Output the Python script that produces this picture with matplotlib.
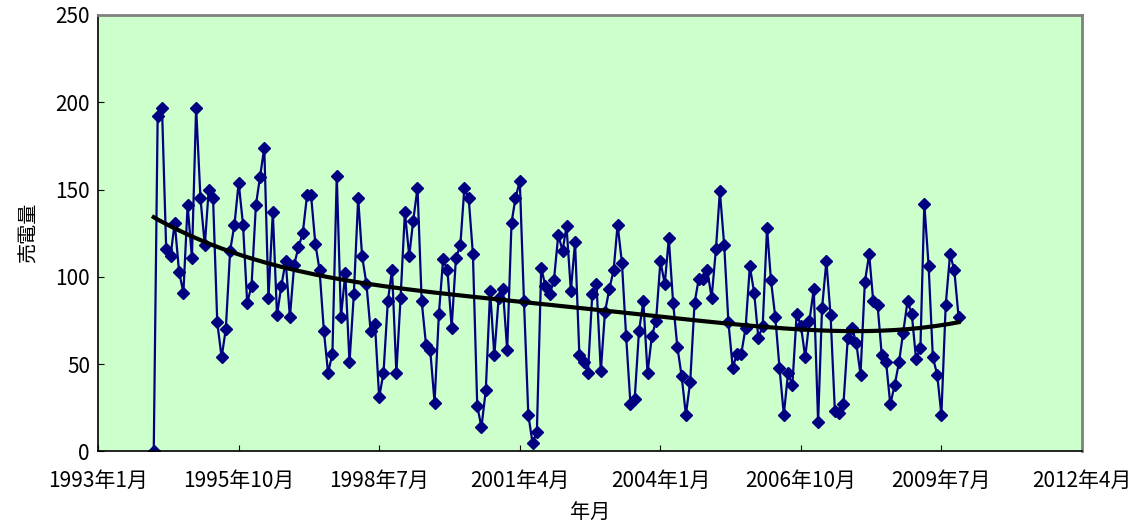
import numpy as np
import pandas as pd
import matplotlib
matplotlib.use("Agg")
import matplotlib.pyplot as plt

plt.rcParams['font.family'] = ['Noto Sans CJK JP', 'DejaVu Sans']

# monthly sales of electricity, first month 1994-02
start_month = '1994-02-01'
sales = [0, 192, 197, 116, 112, 131, 103, 91, 141, 111,
         197, 145, 118, 150, 145, 74, 54, 70, 115, 130,
         154, 130, 85, 95, 141, 157, 174, 88, 137, 78,
         95, 109, 77, 107, 117, 125, 147, 147, 119, 104,
         69, 45, 56, 158, 77, 102, 51, 90, 145, 112,
         96, 69, 73, 31, 45, 86, 104, 45, 88, 137,
         112, 132, 151, 86, 61, 58, 28, 79, 110, 104,
         71, 111, 118, 151, 145, 113, 26, 14, 35, 92,
         55, 88, 93, 58, 131, 145, 155, 86, 21, 5,
         11, 105, 95, 90, 98, 124, 115, 129, 92, 120,
         55, 51, 45, 90, 96, 46, 80, 93, 104, 130,
         108, 66, 27, 30, 69, 86, 45, 66, 75, 109,
         96, 122, 85, 60, 43, 21, 40, 85, 99, 99,
         104, 88, 116, 149, 118, 74, 48, 56, 56, 71,
         106, 91, 65, 72, 128, 98, 77, 48, 21, 45,
         38, 79, 72, 54, 75, 93, 17, 82, 109, 78,
         23, 22, 27, 65, 71, 62, 44, 97, 113, 86,
         84, 55, 51, 27, 38, 51, 68, 86, 79, 53,
         59, 142, 106, 54, 44, 21, 84, 113, 104, 77]

tick_dates = ['1993-01-01', '1995-10-01', '1998-07-01', '2001-04-01',
              '2004-01-01', '2006-10-01', '2009-07-01', '2012-04-01']
tick_labels = ['1993年1月', '1995年10月', '1998年7月', '2001年4月',
               '2004年1月', '2006年10月', '2009年7月', '2012年4月']

dates = pd.date_range(start_month, periods=len(sales), freq='MS')
idx = np.arange(len(sales))
# polynomial trend line
coef = np.polyfit(idx, sales, 4)
trend = np.polyval(coef, idx)

fig = plt.figure(figsize=(11.38, 5.28), dpi=100)
ax = fig.add_axes([0.0864, 0.1449, 0.8644, 0.8267])
ax.set_facecolor('#CCFFCC')

ax.plot(dates, sales, color='#000080', lw=1.6, marker='D', ms=6,
        markerfacecolor='#000080', markeredgecolor='#000080')
ax.plot(dates, trend, color='black', lw=3)

ax.set_xlim(pd.Timestamp(tick_dates[0]), pd.Timestamp(tick_dates[-1]))
ax.set_ylim(0, 250)
ax.set_yticks(range(0, 251, 50))
ax.set_xticks(pd.to_datetime(tick_dates))
ax.set_xticklabels(tick_labels)
ax.tick_params(direction='in', length=4, labelsize=15, colors='black')
ax.tick_params(axis='x', pad=13)
ax.tick_params(axis='y', pad=6)

for s in ['left', 'bottom']:
    ax.spines[s].set_color('black')
    ax.spines[s].set_linewidth(1.2)
for s in ['top', 'right']:
    ax.spines[s].set_color('#808080')
    ax.spines[s].set_linewidth(2)

ax.set_xlabel('年月', fontsize=14.5, labelpad=8)
ax.set_ylabel('売電量', fontsize=14.5, labelpad=11)

fig.savefig('out.png', dpi=100)
